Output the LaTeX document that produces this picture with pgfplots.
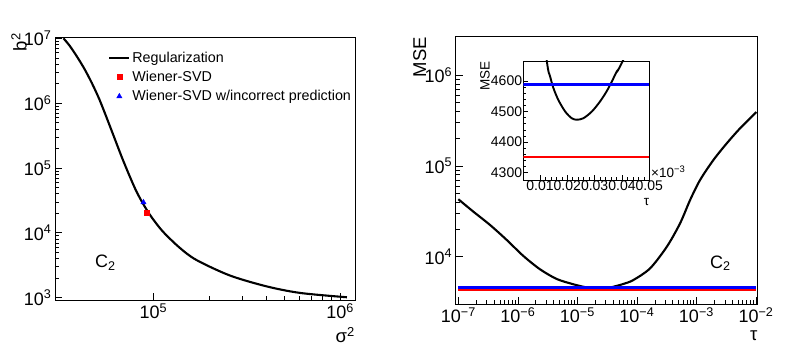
\documentclass[border=0pt]{standalone}
\usepackage{fontspec}
\setmainfont{Liberation Sans}
\usepackage{pgfplots}
\usepackage{pgfplotstable}
\pgfplotsset{compat=1.18}

\pgfplotstableread{
s2 b2
32960 1.0e7
35480 7.762e6
38900 5.248e6
42660 3.388e6
46770 2.042e6
51290 1.148e6
56230 5.888e5
61660 2.951e5
67610 1.479e5
74130 7.762e4
81280 4.266e4
89130 2.630e4
97720 1.738e4
112200 1.047e4
138000 5888
169800 3802
257000 2188
407400 1479
616600 1175
1086000 1012
}\regtable

\pgfplotstableread{
tau mse
1e-7 42900
1.786e-7 31330
3.41e-7 22340
6.50e-7 15280
1.236e-6 10190
2.36e-6 7261
4.51e-6 5675
8.57e-6 4966
1.25e-5 4665
1.37e-5 4615
1.49e-5 4577
1.67e-5 4538
1.92e-5 4500
2.16e-5 4478
2.35e-5 4473
2.59e-5 4478
2.90e-5 4500
3.20e-5 4533
3.44e-5 4566
3.63e-5 4598
3.81e-5 4631
4.03e-5 4665
5.93e-5 5010
8.73e-5 5534
1.667e-4 7447
3.184e-4 12880
5.32e-4 23330
7.83e-4 42070
1.153e-3 69980
1.932e-3 116100
3.243e-3 177400
5.42e-3 259400
9.70e-3 379300
1e-2 386400
}\msetable

\begin{document}
\begin{tikzpicture}
\useasboundingbox (0pt,0pt) rectangle (805pt,348pt);
\pgfplotsset{
  rootstyle/.style={
    scale only axis, anchor=south west,
    tick pos=left,
    major tick length=7pt, minor tick length=4pt,
    tick style={line width=0.6pt, black},
    axis line style={line width=0.8pt},
    tick label style={font=\fontsize{18}{18}\selectfont},
  },
  legend image code/.code={\draw[mark repeat=2, mark phase=2, #1] plot coordinates {(0pt,0pt) (10pt,0pt) (20pt,0pt)};},
}
% ---------- left panel ----------
\begin{axis}[rootstyle, at={(55pt,48pt)}, width=300pt, height=262.5pt,
  xmode=log, ymode=log,
  xmin=29700, xmax=1.2e6, ymin=918, ymax=1.03e7,
  xtick={1e5,1e6}, xticklabels={10\textsuperscript{5},10\textsuperscript{6}},
  ytick={1e3,1e4,1e5,1e6,1e7},
  yticklabels={10\textsuperscript{3},10\textsuperscript{4},10\textsuperscript{5},10\textsuperscript{6},10\textsuperscript{7}},
  legend style={draw=none, fill=none, at={(rel axis cs:0.167,0.962)}, anchor=north west,
    font=\fontsize{14.3}{14.3}\selectfont, row sep=3.5pt},
  legend cell align=left,
]
\addplot[black, line width=2.1pt, smooth] table[x=s2, y=b2] {\regtable};
\addlegendentry{Regularization}
\addplot[only marks, mark=square*, mark size=2.6pt, color=red] coordinates {(92200,20300)};
\addlegendentry{Wiener-SVD}
\addplot[only marks, mark=triangle*, mark size=3pt, color=blue] coordinates {(88400,29500)};
\addlegendentry{Wiener-SVD w/incorrect prediction}
\node[anchor=base west, font=\fontsize{18}{18}\selectfont, inner sep=0pt] at (rel axis cs:0.133,0.122) {C\textsubscript{2}};
\end{axis}
\node[rotate=90, anchor=south east, inner sep=0pt, font=\fontsize{18.5}{18.5}\selectfont] at (27pt,315pt) {b\textsuperscript{2}};
\node[anchor=north east, inner sep=0pt, font=\fontsize{18.5}{18.5}\selectfont] at (355pt,21pt) {σ\textsuperscript{2}};
% ---------- right panel ----------
\begin{axis}[rootstyle, at={(455.7pt,44pt)}, width=302pt, height=268pt,
  xmode=log, ymode=log,
  xmin=9.03e-8, xmax=1.07e-2, ymin=3013, ymax=2.69e6,
  xtick={1e-7,1e-6,1e-5,1e-4,1e-3,1e-2},
  xticklabels={10\textsuperscript{−7},10\textsuperscript{−6},10\textsuperscript{−5},10\textsuperscript{−4},10\textsuperscript{−3},10\textsuperscript{−2}},
  ytick={1e4,1e5,1e6},
  yticklabels={10\textsuperscript{4},10\textsuperscript{5},10\textsuperscript{6}},
]
\addplot[black, line width=2.1pt, smooth] table[x=tau, y=mse] {\msetable};
\addplot[red, line width=2.4pt] coordinates {(1e-7,4352) (1e-2,4352)};
\addplot[blue, line width=2.4pt] coordinates {(1e-7,4588) (1e-2,4588)};
\node[anchor=base west, font=\fontsize{18}{18}\selectfont, inner sep=0pt] at (rel axis cs:0.842,0.134) {C\textsubscript{2}};
\end{axis}
\node[rotate=90, anchor=south east, inner sep=0pt, font=\fontsize{18.5}{18.5}\selectfont] at (426.5pt,311pt) {MSE};
\node[anchor=north east, inner sep=0pt, font=\fontsize{18.5}{18.5}\selectfont] at (757.7pt,17.5pt) {τ};
% ---------- inset ----------
\begin{axis}[rootstyle, at={(523.3pt,168pt)}, width=126pt, height=119pt,
  axis background/.style={fill=white},
  xmin=0.0039, xmax=0.05, ymin=4276, ymax=4665,
  major tick length=5pt, minor tick length=3pt,
  tick label style={font=\fontsize{14}{14}\selectfont},
  xtick={0.01,0.02,0.03,0.04,0.05}, xticklabels={0.01,0.02,0.03,0.04,0.05},
  ytick={4300,4400,4500,4600}, yticklabels={4300,4400,4500,4600},
  minor x tick num=4, minor y tick num=4,
  xticklabel style={inner ysep=1pt},
  yticklabel style={inner xsep=1pt},
  scaled x ticks=false,
]
\addplot[black, line width=1.9pt, smooth, restrict x to domain=0:0.1, restrict y to domain=4000:5200] table[x expr=\thisrow{tau}*1000, y=mse] {\msetable};
\addplot[red, line width=2.4pt] coordinates {(0.0039,4352) (0.05,4352)};
\addplot[blue, line width=2.4pt] coordinates {(0.0039,4588) (0.05,4588)};
\end{axis}
\node[rotate=90, anchor=south east, inner sep=0pt, font=\fontsize{13.5}{13.5}\selectfont] at (490pt,287pt) {MSE};
\node[anchor=north east, inner sep=0pt, font=\fontsize{13.5}{13.5}\selectfont] at (649.3pt,150pt) {τ};
\node[anchor=base west, inner sep=0pt, font=\fontsize{13.5}{13.5}\selectfont] at (651pt,170pt) {×10\textsuperscript{−3}};
\end{tikzpicture}
\end{document}
